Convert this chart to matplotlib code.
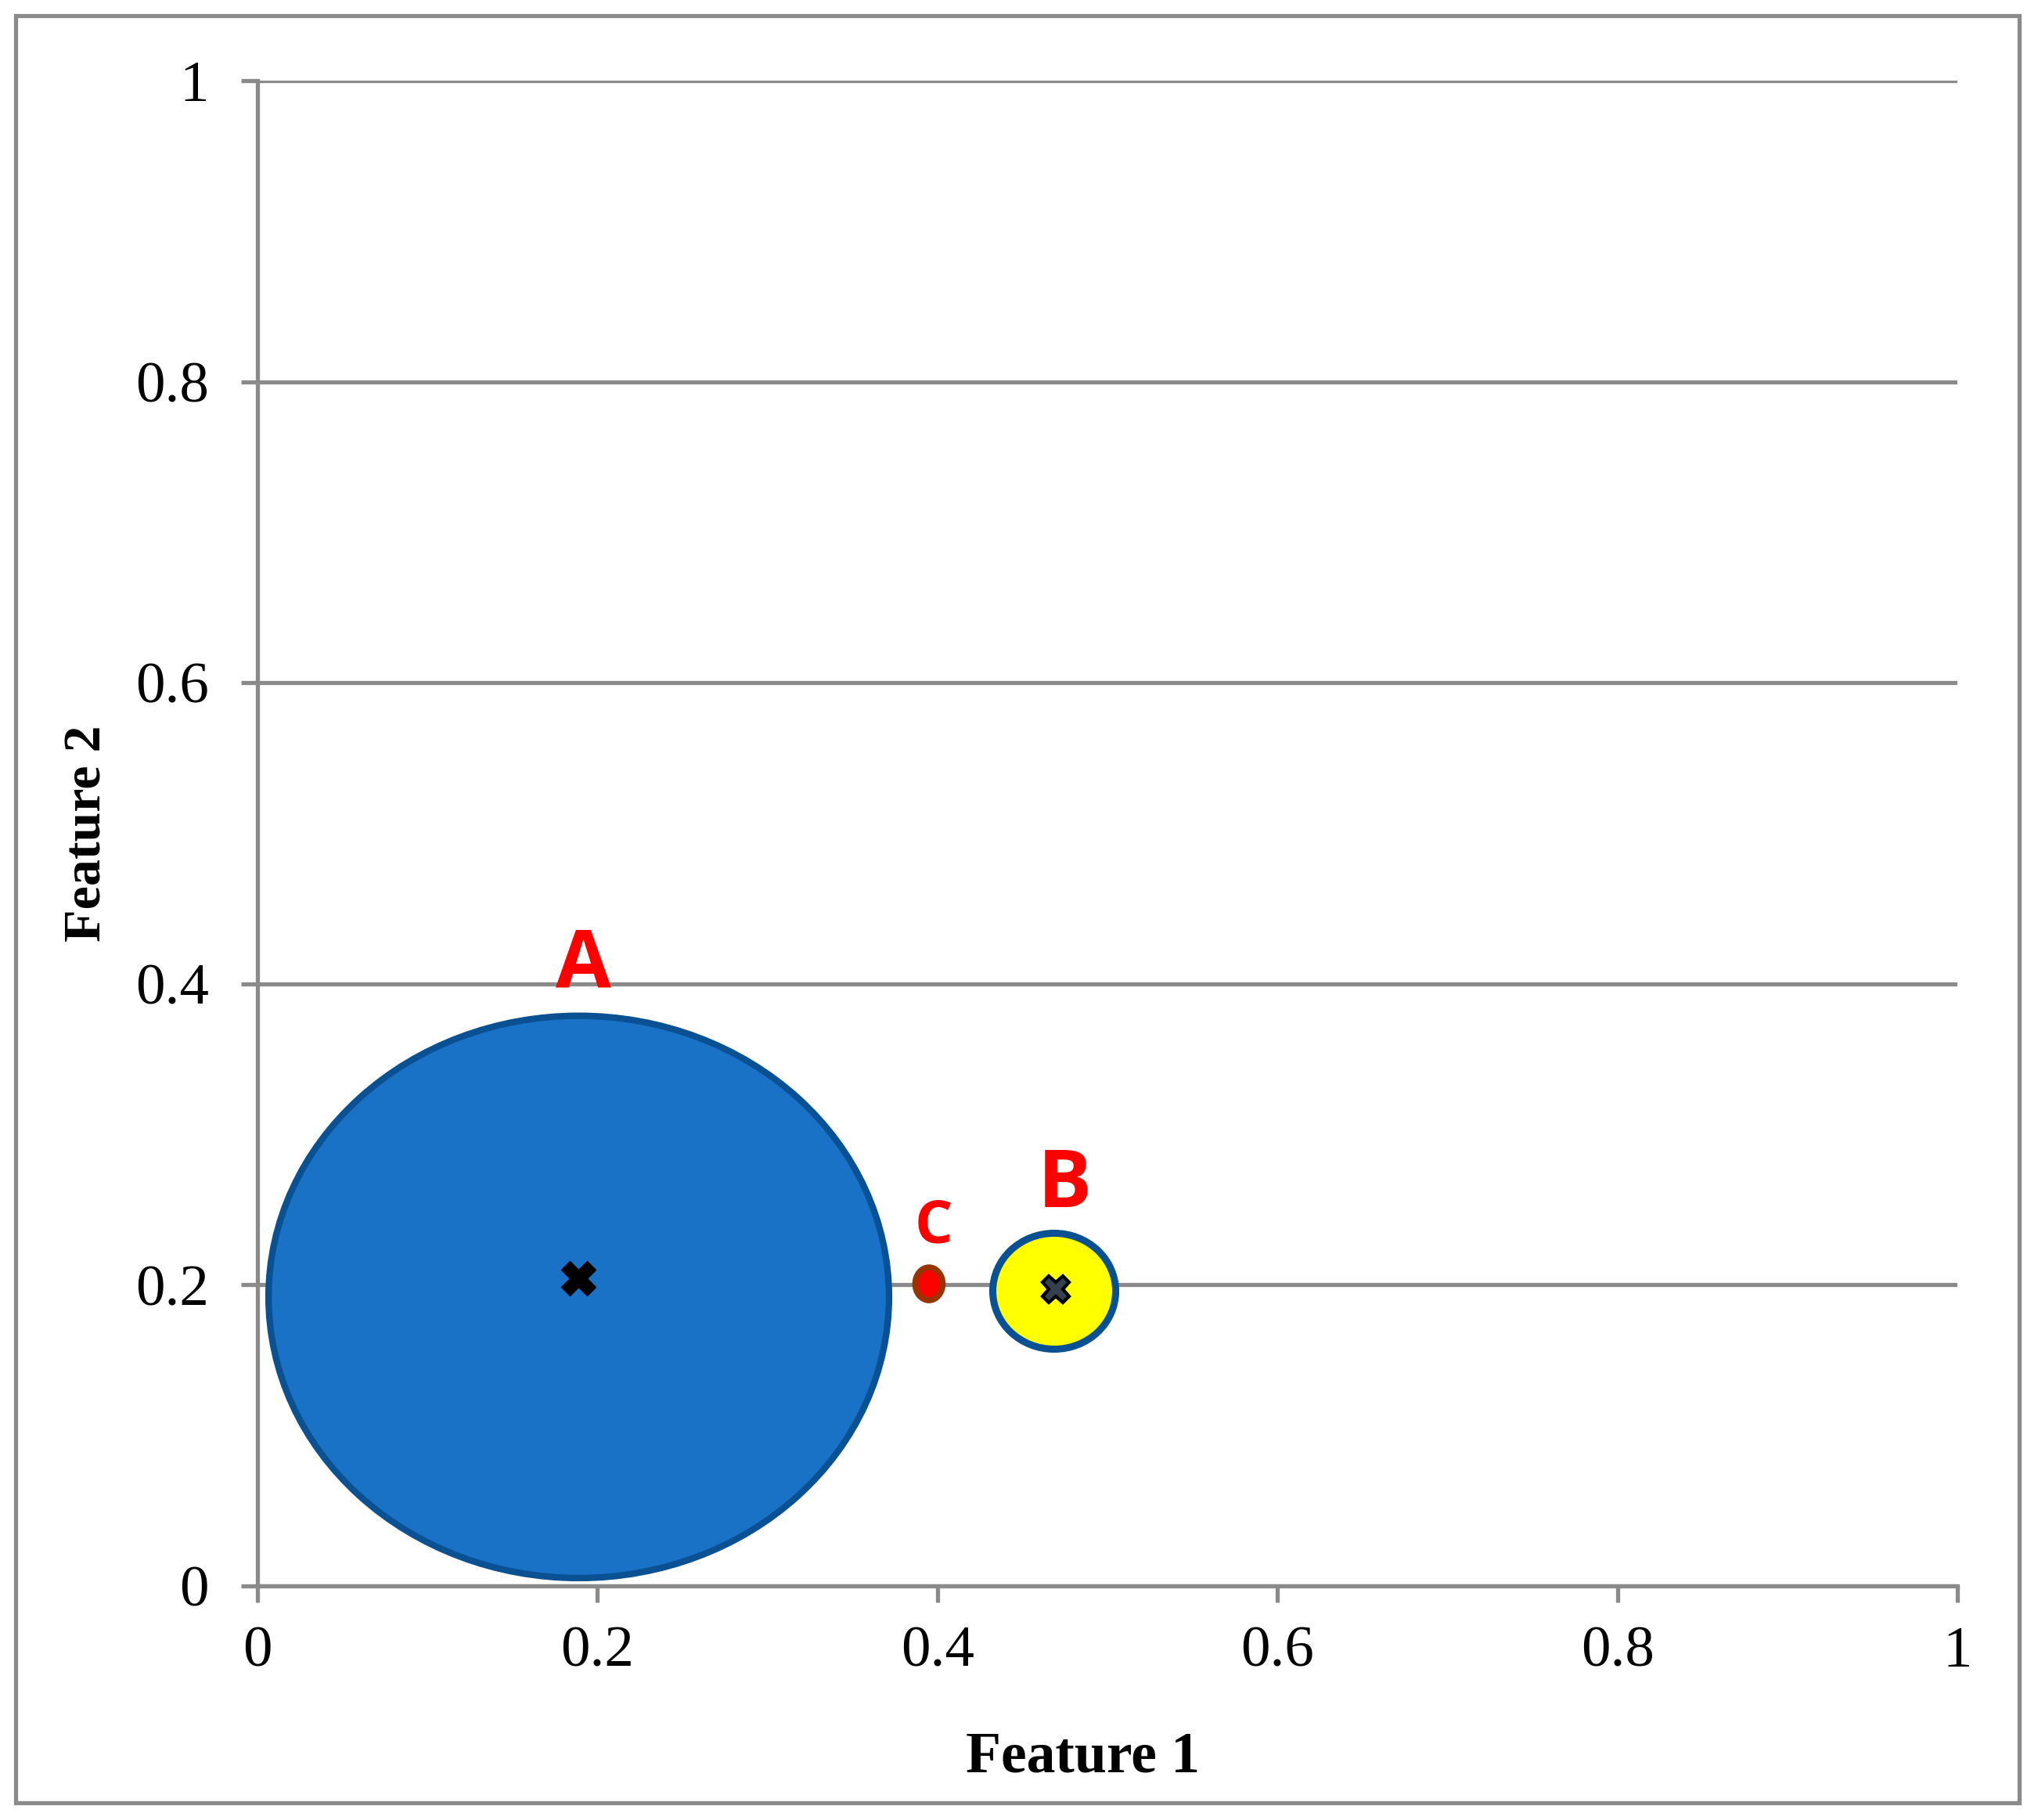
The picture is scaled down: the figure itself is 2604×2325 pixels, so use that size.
import matplotlib.pyplot as plt
from matplotlib.patches import Ellipse, Rectangle

# bubble centres, sizes (data units) and labels
names = ["A", "B", "C"]
cx = [0.189, 0.4687, 0.395]
cy = [0.192, 0.1958, 0.2007]
bw = [0.365, 0.0723, 0.0161]
bh = [0.3735, 0.077, 0.0218]

# cross markers at the centroids (A and B)
mark_x = [0.1888, 0.4696]
mark_y = [0.2044, 0.197]

# label positions
lab_x = [0.1915, 0.4747, 0.3978]
lab_y = [0.412, 0.2657, 0.2384]

ticks = [0, 0.2, 0.4, 0.6, 0.8, 1]
tick_labels = ["0", "0.2", "0.4", "0.6", "0.8", "1"]

GRAY = "#8a8a8a"
fills = ["#1972c6", "#ffff00", "#ff0000"]
edges = ["#0a5194", "#0a5194", "#993300"]
edge_w = [6.0, 6.5, 5.5]
lab_size = [74, 74, 55]

fig = plt.figure(figsize=(26.04, 23.25), dpi=100)
ax = fig.add_axes([329 / 2604, 1 - 2026 / 2325, 2172 / 2604, 1923 / 2325])

# outer chart border
fig.patches.append(Rectangle((20 / 2604, 1 - 2303 / 2325), 2560 / 2604, 2283 / 2325,
                             transform=fig.transFigure, fill=False,
                             edgecolor=GRAY, linewidth=3.8))

ax.set_xlim(0, 1)
ax.set_ylim(0, 1)
ax.set_xticks(ticks)
ax.set_yticks(ticks)
ax.set_xticklabels(tick_labels, fontfamily="Liberation Serif", fontsize=54)
ax.set_yticklabels(tick_labels, fontfamily="Liberation Serif", fontsize=54)
ax.tick_params(axis="both", direction="out", length=15, width=3.8, color=GRAY)
ax.tick_params(axis="x", pad=22)
ax.tick_params(axis="y", pad=30)

for s in ["top", "right"]:
    ax.spines[s].set_visible(False)
for s in ["left", "bottom"]:
    ax.spines[s].set_color(GRAY)
    ax.spines[s].set_linewidth(3.8)
ax.yaxis.grid(True, color=GRAY, linewidth=3.8)
ax.set_axisbelow(True)

for i in range(len(names)):
    ax.add_patch(Ellipse((cx[i], cy[i]), bw[i], bh[i], facecolor=fills[i],
                         edgecolor=edges[i], linewidth=edge_w[i], zorder=3))
    ax.text(lab_x[i], lab_y[i], names[i], color="#ff0000", fontsize=lab_size[i],
            fontfamily="Open Sans", fontweight="bold", ha="center", va="center", zorder=5)

ax.plot(mark_x[0], mark_y[0], marker="X", markersize=32, color="black",
        markeredgecolor="black", markeredgewidth=1, zorder=4)
ax.plot(mark_x[1], mark_y[1], marker="X", markersize=25, color="#34404e",
        markeredgecolor="black", markeredgewidth=3, zorder=4)

ax.set_xlabel("Feature 1", fontfamily="Liberation Serif", fontweight="bold", fontsize=53)
ax.set_ylabel("Feature 2", fontfamily="Liberation Serif", fontweight="bold", fontsize=49)
ax.xaxis.set_label_coords((1383 - 329) / 2172, -(2245 - 2026) / 1923)
ax.yaxis.set_label_coords(-(329 - 112) / 2172, 0.5)
ax.xaxis.label.set_va("center")
ax.yaxis.label.set_va("center")

fig.savefig("out.png", dpi=100)
